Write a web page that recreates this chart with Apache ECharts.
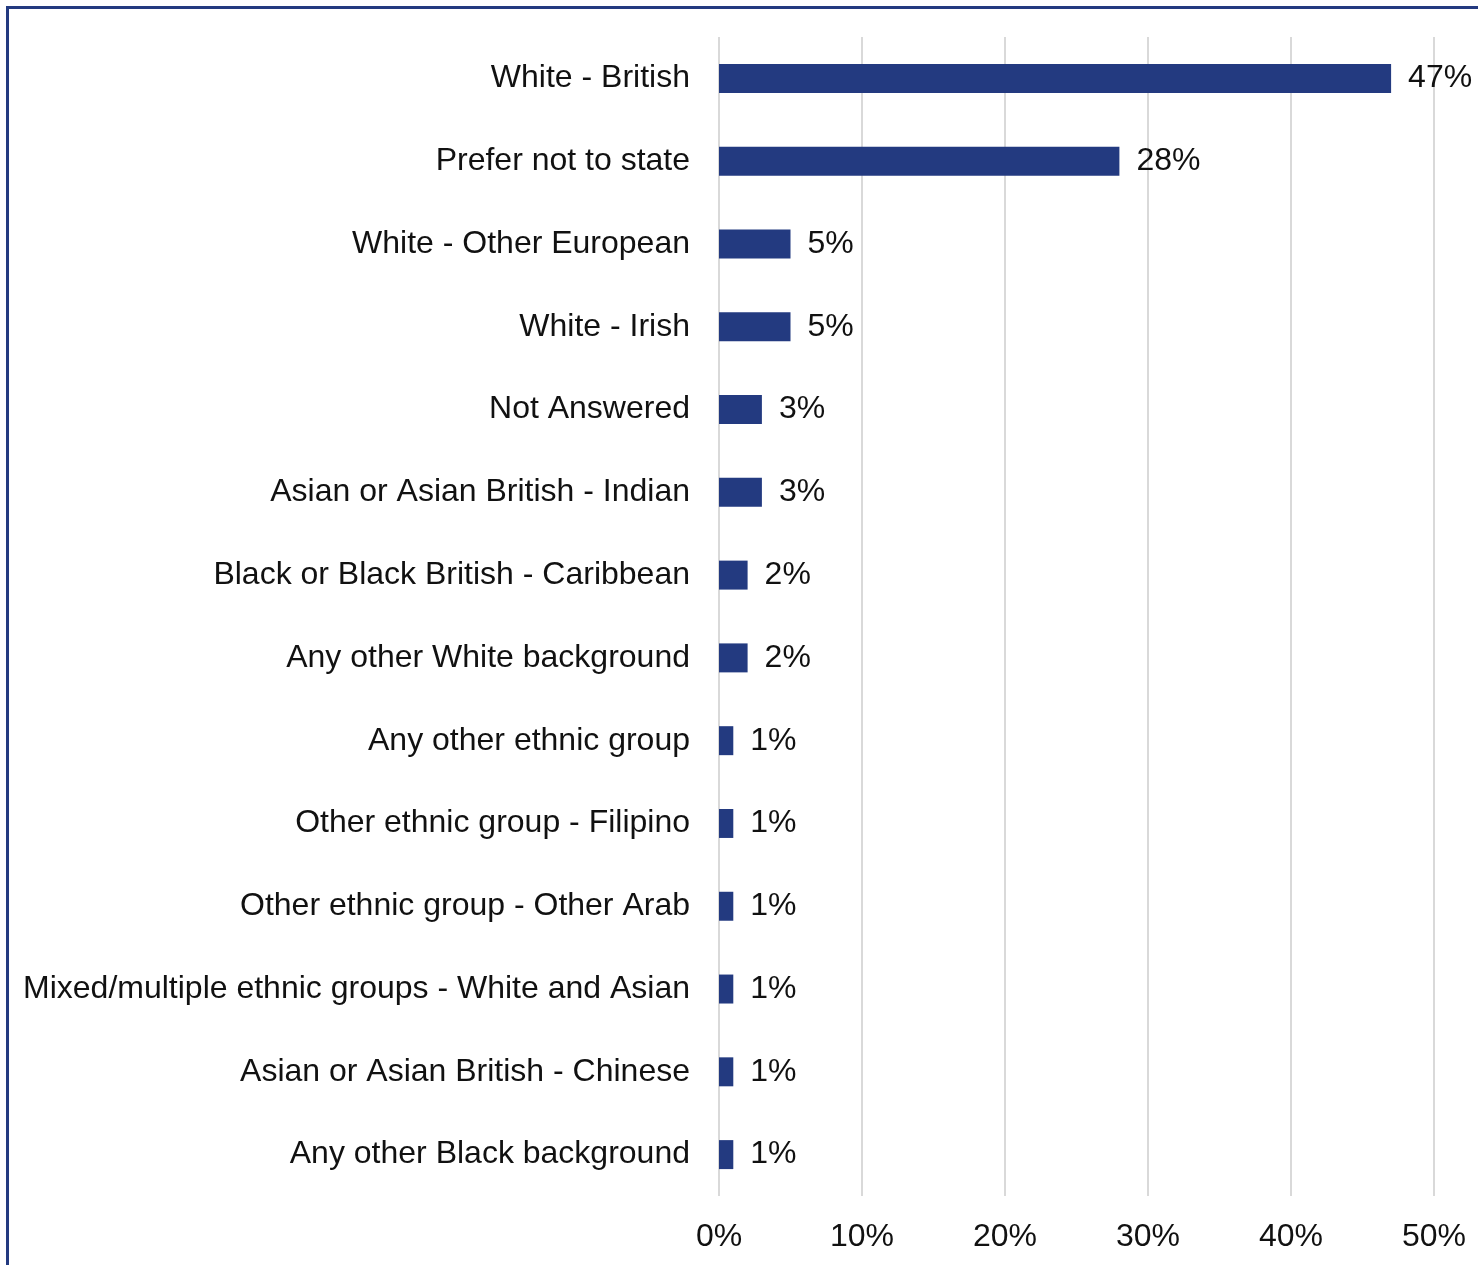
<!DOCTYPE html>
<html>
<head>
<meta charset="utf-8">
<script src="https://cdn.jsdelivr.net/npm/echarts@6/dist/echarts.min.js"></script>
<style>
  html, body { margin: 0; padding: 0; background: #ffffff; }
  #chart { width: 1478px; height: 1265px; }
</style>
</head>
<body>
<div id="chart"></div>
<script>
// Ethnic group breakdown, top to bottom
const categories = [
  'White - British',
  'Prefer not to state',
  'White - Other European',
  'White - Irish',
  'Not Answered',
  'Asian or Asian British - Indian',
  'Black or Black British - Caribbean',
  'Any other White background',
  'Any other ethnic group',
  'Other ethnic group - Filipino',
  'Other ethnic group - Other Arab',
  'Mixed/multiple ethnic groups - White and Asian',
  'Asian or Asian British - Chinese',
  'Any other Black background'
];
const shares = [47, 28, 5, 5, 3, 3, 2, 2, 1, 1, 1, 1, 1, 1];
const axisTicks = [0, 10, 20, 30, 40, 50];

const FONT = '"Liberation Sans", Arial, sans-serif';
const TEXT = '#111111';
const chart = echarts.init(document.getElementById('chart'), null, { renderer: 'canvas' });

chart.setOption({
  backgroundColor: '#ffffff',
  animation: false,
  graphic: [{
    type: 'rect',
    shape: { x: 7.5, y: 7.5, width: 1600, height: 1400 },
    style: { fill: 'none', stroke: '#233a80', lineWidth: 3 },
    silent: true
  }],
  grid: { left: 719, right: 44, top: 37, bottom: 69, containLabel: false },
  xAxis: {
    type: 'value',
    min: axisTicks[0],
    max: axisTicks[axisTicks.length - 1],
    interval: axisTicks[1] - axisTicks[0],
    axisLine: { show: false },
    axisTick: { show: false },
    axisLabel: {
      formatter: v => v + '%',
      fontFamily: FONT,
      fontSize: 32,
      color: TEXT,
      margin: 25
    },
    splitLine: { lineStyle: { color: '#d9d9d9', width: 2, type: 'solid' } }
  },
  yAxis: {
    type: 'category',
    inverse: true,
    data: categories,
    axisLine: { show: false },
    axisTick: { show: false },
    axisLabel: {
      fontFamily: FONT,
      fontSize: 32,
      color: TEXT,
      margin: 29,
      padding: [4, 0, 0, 0]
    }
  },
  series: [{
    type: 'bar',
    data: shares,
    barWidth: '35%',
    itemStyle: { color: '#233a80' },
    label: {
      show: true,
      position: 'right',
      distance: 17,
      padding: [4, 0, 0, 0],
      formatter: p => p.value + '%',
      fontFamily: FONT,
      fontSize: 32,
      color: TEXT
    }
  }]
});
</script>
</body>
</html>
